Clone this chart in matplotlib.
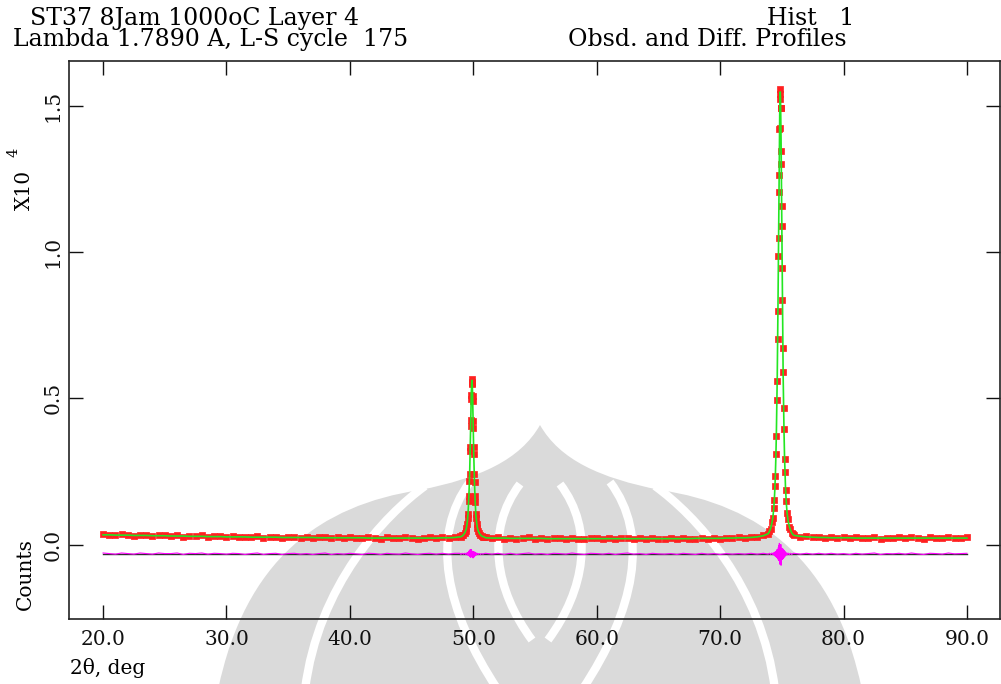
import numpy as np
import matplotlib
matplotlib.use("Agg")
import matplotlib.pyplot as plt
from matplotlib.path import Path
from matplotlib.patches import PathPatch

# ---------------------------------------------------------------------------
# Powder pattern: ST37, Co K-alpha (1.7890 A); intensities in units of 1e4 counts
# ---------------------------------------------------------------------------
# flat background stretches, 0.5 deg scan step
tth_bg1 = np.round(np.arange(20.0, 48.51, 0.5), 2)
tth_bg2 = np.round(np.arange(51.0, 73.51, 0.5), 2)
tth_bg3 = np.round(np.arange(76.0, 90.01, 0.5), 2)

obs_bg1 = [0.036, 0.034, 0.031, 0.035, 0.033, 0.030, 0.034, 0.032, 0.029, 0.033,
           0.031, 0.030, 0.032, 0.027, 0.030, 0.029, 0.031, 0.026, 0.029, 0.028,
           0.025, 0.028, 0.027, 0.024, 0.026, 0.028, 0.023, 0.026, 0.027, 0.022,
           0.025, 0.026, 0.023, 0.025, 0.022, 0.024, 0.026, 0.021, 0.024, 0.022,
           0.025, 0.023, 0.021, 0.024, 0.023, 0.020, 0.024, 0.022, 0.021, 0.025,
           0.022, 0.020, 0.023, 0.024, 0.021, 0.025, 0.022, 0.026]
calc_bg1 = [0.033, 0.033, 0.032, 0.032, 0.032, 0.031, 0.031, 0.031, 0.030, 0.030,
            0.030, 0.029, 0.029, 0.029, 0.028, 0.028, 0.028, 0.027, 0.027, 0.027,
            0.026, 0.026, 0.026, 0.026, 0.025, 0.025, 0.025, 0.025, 0.025, 0.024,
            0.024, 0.024, 0.024, 0.024, 0.024, 0.023, 0.023, 0.023, 0.023, 0.023,
            0.023, 0.023, 0.023, 0.022, 0.022, 0.022, 0.022, 0.022, 0.022, 0.022,
            0.022, 0.022, 0.022, 0.022, 0.022, 0.023, 0.023, 0.024]

obs_bg2 = [0.025, 0.021, 0.024, 0.020, 0.023, 0.019, 0.022, 0.024, 0.020, 0.022,
           0.018, 0.022, 0.021, 0.019, 0.023, 0.020, 0.018, 0.022, 0.021, 0.019,
           0.022, 0.018, 0.021, 0.023, 0.019, 0.021, 0.018, 0.022, 0.020, 0.019,
           0.021, 0.018, 0.022, 0.020, 0.019, 0.023, 0.020, 0.022, 0.019, 0.023,
           0.021, 0.024, 0.022, 0.026, 0.025, 0.032]
calc_bg2 = [0.023, 0.022, 0.022, 0.022, 0.021, 0.021, 0.021, 0.021, 0.021, 0.021,
            0.020, 0.020, 0.020, 0.020, 0.020, 0.020, 0.020, 0.020, 0.020, 0.020,
            0.020, 0.020, 0.020, 0.020, 0.020, 0.020, 0.020, 0.020, 0.020, 0.020,
            0.020, 0.020, 0.020, 0.020, 0.021, 0.021, 0.021, 0.021, 0.021, 0.022,
            0.022, 0.023, 0.023, 0.024, 0.026, 0.030]

obs_bg3 = [0.033, 0.027, 0.028, 0.024, 0.026, 0.023, 0.025, 0.022, 0.024, 0.021,
           0.024, 0.021, 0.023, 0.025, 0.020, 0.023, 0.022, 0.024, 0.021, 0.025,
           0.022, 0.020, 0.024, 0.023, 0.021, 0.025, 0.022, 0.023, 0.024]
calc_bg3 = [0.031, 0.028, 0.026, 0.025, 0.024, 0.024, 0.023, 0.023, 0.023, 0.023,
            0.022, 0.022, 0.022, 0.022, 0.022, 0.022, 0.022, 0.022, 0.022, 0.022,
            0.022, 0.022, 0.022, 0.022, 0.022, 0.022, 0.022, 0.022, 0.022]

# reflection near 49.9 deg
tth_pk1 = [48.90, 49.00, 49.10, 49.20, 49.30, 49.38, 49.44, 49.50, 49.54, 49.58,
           49.62, 49.65, 49.68, 49.71, 49.74, 49.76, 49.78, 49.80, 49.82, 49.84,
           49.86, 49.88, 49.90, 49.92, 49.94, 49.96, 49.98, 50.00, 50.02, 50.04,
           50.07, 50.10, 50.13, 50.16, 50.20, 50.24, 50.28, 50.34, 50.40, 50.48,
           50.58, 50.68, 50.78, 50.88]
obs_pk1 = [0.028, 0.025, 0.031, 0.032, 0.041, 0.045, 0.058, 0.070, 0.092, 0.104,
           0.150, 0.166, 0.218, 0.241, 0.318, 0.333, 0.405, 0.425, 0.497, 0.510,
           0.556, 0.565, 0.552, 0.550, 0.508, 0.490, 0.422, 0.398, 0.332, 0.311,
           0.240, 0.213, 0.165, 0.147, 0.104, 0.091, 0.070, 0.057, 0.045, 0.040,
           0.031, 0.030, 0.026, 0.027]
calc_pk1 = [0.026, 0.027, 0.029, 0.033, 0.039, 0.047, 0.055, 0.073, 0.088, 0.109,
            0.142, 0.172, 0.207, 0.250, 0.304, 0.344, 0.390, 0.436, 0.482, 0.520,
            0.544, 0.561, 0.561, 0.544, 0.520, 0.482, 0.436, 0.390, 0.344, 0.304,
            0.250, 0.207, 0.172, 0.142, 0.109, 0.088, 0.073, 0.055, 0.047, 0.039,
            0.033, 0.029, 0.027, 0.026]

# reflection near 74.9 deg
tth_pk2 = [73.90, 74.00, 74.10, 74.20, 74.28, 74.34, 74.40, 74.44, 74.48, 74.52,
           74.56, 74.60, 74.63, 74.66, 74.69, 74.72, 74.74, 74.76, 74.78, 74.80,
           74.82, 74.84, 74.86, 74.88, 74.90, 74.92, 74.94, 74.96, 74.98, 75.00,
           75.02, 75.05, 75.08, 75.11, 75.14, 75.18, 75.22, 75.26, 75.30, 75.36,
           75.42, 75.50, 75.60, 75.70, 75.80, 75.90]
obs_pk2 = [0.036, 0.047, 0.054, 0.077, 0.091, 0.125, 0.152, 0.199, 0.233, 0.310,
           0.371, 0.495, 0.560, 0.703, 0.800, 0.985, 1.048, 1.205, 1.262, 1.420,
           1.425, 1.524, 1.556, 1.540, 1.492, 1.492, 1.345, 1.301, 1.158, 1.089,
           0.944, 0.836, 0.671, 0.589, 0.467, 0.394, 0.291, 0.249, 0.186, 0.150,
           0.107, 0.086, 0.060, 0.052, 0.038, 0.035]
calc_pk2 = [0.037, 0.045, 0.056, 0.074, 0.094, 0.121, 0.158, 0.193, 0.241, 0.302,
            0.382, 0.481, 0.573, 0.688, 0.818, 0.963, 1.070, 1.177, 1.284, 1.384,
            1.460, 1.514, 1.547, 1.547, 1.514, 1.460, 1.384, 1.284, 1.177, 1.070,
            0.963, 0.818, 0.688, 0.573, 0.481, 0.382, 0.302, 0.241, 0.193, 0.146,
            0.111, 0.083, 0.063, 0.050, 0.040, 0.034]

diff_offset = -0.032          # baseline of the difference curve
x_ticks = [20.0, 30.0, 40.0, 50.0, 60.0, 70.0, 80.0, 90.0]
y_ticks = [0.0, 0.5, 1.0, 1.5]

tth = np.concatenate([tth_bg1, tth_pk1, tth_bg2, tth_pk2, tth_bg3])
yobs = np.concatenate([obs_bg1, obs_pk1, obs_bg2, obs_pk2, obs_bg3])
ycalc = np.concatenate([calc_bg1, calc_pk1, calc_bg2, calc_pk2, calc_bg3])
ydiff = yobs - ycalc + diff_offset

# ---------------------------------------------------------------------------
W, H = 1001, 684
plt.rcParams["font.family"] = ["DejaVu Serif"]
fig = plt.figure(figsize=(W / 100, H / 100), dpi=100)


def fx(px):
    return px / W


def fy(py):
    return 1 - py / H


# faint emblem printed behind the plot
wm = fig.add_axes([0, 0, 1, 1], zorder=0)
wm.set_xlim(0, W)
wm.set_ylim(H, 0)
wm.axis("off")
grey = "#dadada"
M, C, L, Z = Path.MOVETO, Path.CURVE4, Path.LINETO, Path.CLOSEPOLY
outline = Path(
    [(540, 425), (560, 460), (600, 478), (660, 490),
     (760, 505), (835, 560), (862, 690),
     (218, 690),
     (245, 560), (320, 505), (420, 490),
     (480, 478), (520, 460), (540, 425), (540, 425)],
    [M, C, C, C, C, C, C, L, C, C, C, C, C, C, Z])
wm.add_patch(PathPatch(outline, facecolor=grey, edgecolor="none"))
white_curves = [
    [(425, 486), (385, 515), (318, 585), (305, 690)],
    [(655, 486), (695, 515), (762, 585), (775, 690)],
    [(470, 482), (430, 535), (445, 610), (498, 690)],
    [(610, 482), (650, 535), (635, 610), (582, 690)],
    [(520, 484), (485, 530), (495, 590), (532, 640)],
    [(560, 484), (595, 530), (585, 590), (548, 640)],
]
for pts in white_curves:
    wm.add_patch(PathPatch(Path(pts, [M, C, C, C]), facecolor="none",
                           edgecolor="white", lw=6))

ax = fig.add_axes([fx(68.5), fy(619), fx(1000) - fx(68.5), fy(61) - fy(619)], zorder=1)
ax.patch.set_alpha(0)

# difference curve and its zero line
ax.plot([tth[0], tth[-1]], [diff_offset, diff_offset], color="#303030", lw=1.0, zorder=2)
ax.plot(tth, ydiff, color="#ff00ff", lw=0.8, zorder=3)

# observed points and calculated profile
rect = [(-1, -0.8), (1, -0.8), (1, 0.8), (-1, 0.8), (-1, -0.8)]
ax.plot(tth, yobs, linestyle="none", marker=rect, markersize=5,
        markerfacecolor="#ff2020", markeredgecolor="#ff2020",
        markeredgewidth=0.5, zorder=4)
ax.plot(tth, ycalc, color="#22e622", lw=1.2, zorder=5)

ax.set_xlim(17.2, 92.68)
ax.set_ylim(-0.2547, 1.653)
ax.set_xticks(x_ticks)
ax.set_xticklabels([f"{t:.1f}" for t in x_ticks])
ax.set_yticks(y_ticks)
ax.set_yticklabels([f"{t:.1f}" for t in y_ticks], rotation=90, va="center")
ax.tick_params(direction="in", length=10, width=1.0, top=True, right=True,
               labelsize=14.5, colors="#111111")
ax.tick_params(axis="x", pad=8)
ax.tick_params(axis="y", pad=4)
for s in ax.spines.values():
    s.set_linewidth(1.2)
    s.set_color("#222222")

fs = 17
fig.text(fx(30), fy(25), "ST37 8Jam 1000oC Layer 4", fontsize=fs, va="baseline")
fig.text(fx(13), fy(46), "Lambda 1.7890 A, L-S cycle  175", fontsize=fs, va="baseline")
fig.text(fx(767), fy(25), "Hist   1", fontsize=fs, va="baseline")
fig.text(fx(568), fy(46), "Obsd. and Diff. Profiles", fontsize=fs, va="baseline")

fig.text(fx(70), fy(668), "2\u03b8, deg", fontsize=14.5, va="center", ha="left")
fig.text(fx(25), fy(574), "Counts", fontsize=14.5, rotation=90, ha="center", va="center")
fig.text(fx(24), fy(190), "X10", fontsize=14.5, rotation=90, ha="center", va="center")
fig.text(fx(13), fy(152), "4", fontsize=10.5, rotation=90, ha="center", va="center")

fig.savefig("out.png", dpi=100)
